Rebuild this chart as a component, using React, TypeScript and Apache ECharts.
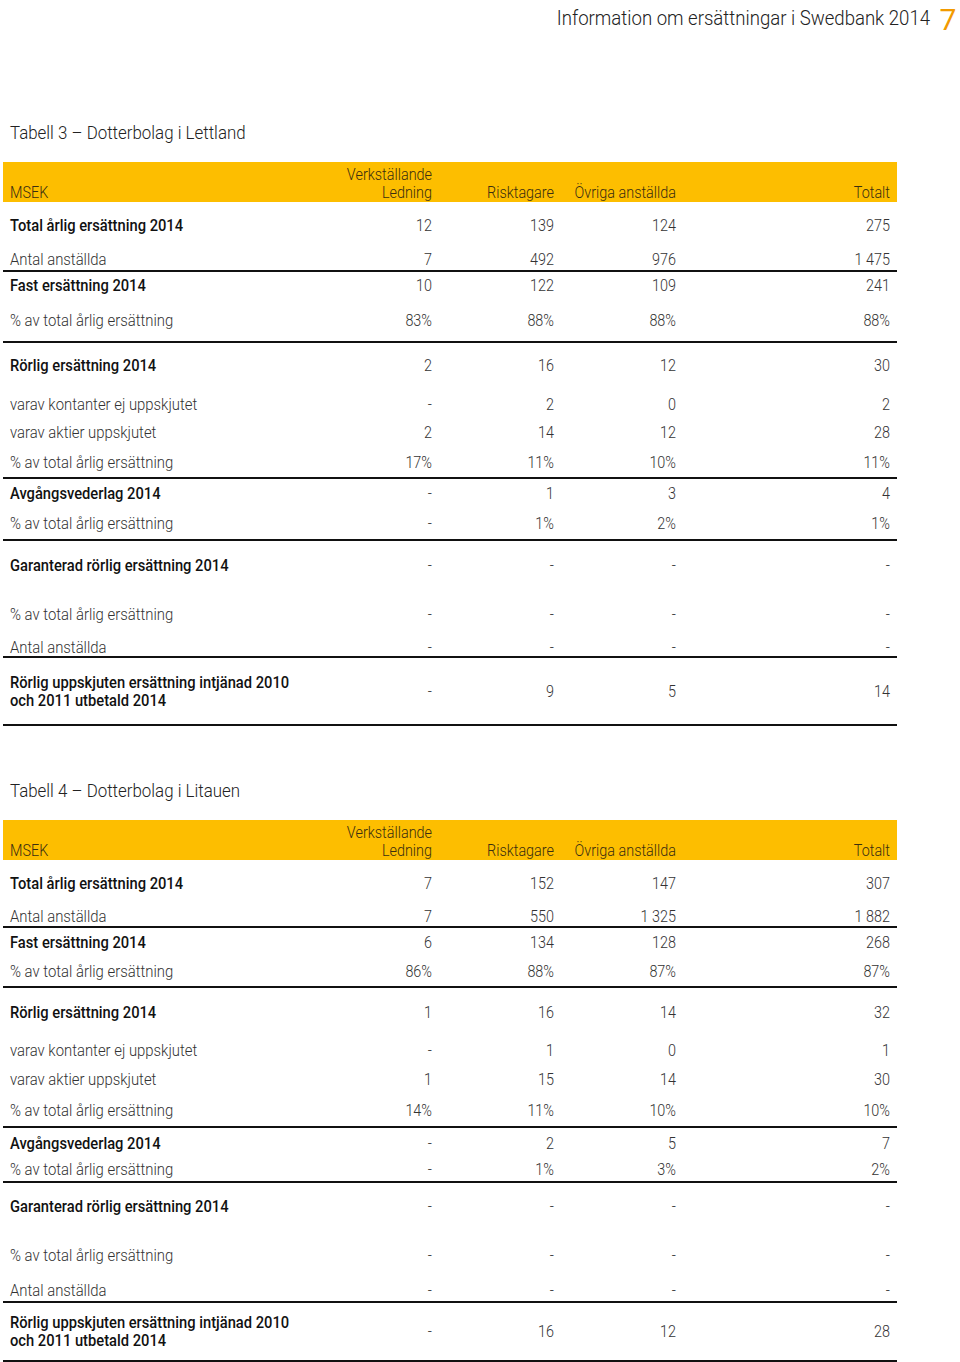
import React, { useEffect, useRef } from "react";
import * as echarts from "echarts";

const pageTitle = "Information om ersättningar i Swedbank 2014";
const pageNumber = "7";
const table3Title = "Tabell 3 – Dotterbolag i Lettland";
const table4Title = "Tabell 4 – Dotterbolag i Litauen";
const headerLabels = ["MSEK", "Verkställande\nLedning", "Risktagare", "Övriga anställda", "Totalt"];

const rowLabels = [
  "Total årlig ersättning 2014",
  "Antal anställda",
  "Fast ersättning 2014",
  "% av total årlig ersättning",
  "Rörlig ersättning 2014",
  "varav kontanter ej uppskjutet",
  "varav aktier uppskjutet",
  "% av total årlig ersättning",
  "Avgångsvederlag 2014",
  "% av total årlig ersättning",
  "Garanterad rörlig ersättning 2014",
  "% av total årlig ersättning",
  "Antal anställda",
  "Rörlig uppskjuten ersättning intjänad 2010\noch 2011 utbetald 2014",
];
const boldRows = [true, false, true, false, true, false, false, false, true, false, true, false, false, true];

// Tabell 3 – Lettland
const t3Ledning = ["12", "7", "10", "83%", "2", "-", "2", "17%", "-", "-", "-", "-", "-", "-"];
const t3Risk = ["139", "492", "122", "88%", "16", "2", "14", "11%", "1", "1%", "-", "-", "-", "9"];
const t3Ovriga = ["124", "976", "109", "88%", "12", "0", "12", "10%", "3", "2%", "-", "-", "-", "5"];
const t3Totalt = ["275", "1 475", "241", "88%", "30", "2", "28", "11%", "4", "1%", "-", "-", "-", "14"];

// Tabell 4 – Litauen
const t4Ledning = ["7", "7", "6", "86%", "1", "-", "1", "14%", "-", "-", "-", "-", "-", "-"];
const t4Risk = ["152", "550", "134", "88%", "16", "1", "15", "11%", "2", "1%", "-", "-", "-", "16"];
const t4Ovriga = ["147", "1 325", "128", "87%", "14", "0", "14", "10%", "5", "3%", "-", "-", "-", "12"];
const t4Totalt = ["307", "1 882", "268", "87%", "32", "1", "30", "10%", "7", "2%", "-", "-", "-", "28"];

// layout (relative to header top)
const t3RowY = [64, 98, 124, 159, 204, 243, 271, 301, 332, 362, 404, 453, 486, 530];
const t3LineY = [109, 180, 316, 378, 495, 563];
const t4RowY = [64, 97, 123, 152, 193, 231, 260, 291, 324, 350, 387, 436, 471, 512];
const t4LineY = [107, 167, 307, 362, 482, 541];

const FONT = "Roboto, 'Noto Sans', sans-serif";
const SX = 0.9;
const colRight = [432, 554, 676, 890];
const YELLOW = "#FDBE00";
const HEAD_FILL = "#3a2e10";

function txt(x: number, y: number, text: string, opts: any = {}) {
  return {
    type: "text",
    x,
    y,
    scaleX: opts.scaleX ?? SX,
    style: {
      text,
      fontFamily: FONT,
      fontSize: opts.size ?? 16,
      fontWeight: opts.weight ?? 400,
      fill: opts.fill ?? "#444",
      textAlign: opts.align ?? "left",
      textVerticalAlign: "middle",
      lineHeight: opts.lineHeight ?? 18,
    },
  };
}

function buildTable(top: number, title: string, cols: string[][], rowY: number[], lineY: number[]) {
  const els: any[] = [];
  els.push(txt(10, top - 30, title, { size: 19, fill: "#222", weight: 300, scaleX: 0.89 }));
  els.push({ type: "rect", shape: { x: 3, y: top, width: 894, height: 40 }, style: { fill: YELLOW } });
  els.push(txt(10, top + 31, headerLabels[0], { fill: HEAD_FILL, weight: 300 }));
  els.push(txt(colRight[0], top + 13, "Verkställande", { fill: HEAD_FILL, align: "right", weight: 300 }));
  els.push(txt(colRight[0], top + 31, "Ledning", { fill: HEAD_FILL, align: "right", weight: 300 }));
  for (let c = 2; c < headerLabels.length; c++) {
    els.push(txt(colRight[c - 1], top + 31, headerLabels[c], { fill: HEAD_FILL, align: "right", weight: 300 }));
  }
  rowLabels.forEach((lab, i) => {
    const y = top + rowY[i];
    els.push(
      txt(10, y, lab, {
        weight: boldRows[i] ? 500 : 300,
        fill: boldRows[i] ? "#111" : "#333",
        scaleX: boldRows[i] ? 0.92 : 0.93,
      })
    );
    cols.forEach((col, c) => {
      els.push(txt(colRight[c], y, col[i], { align: "right", weight: 300, fill: "#333" }));
    });
  });
  lineY.forEach((ly) => {
    els.push({
      type: "line",
      shape: { x1: 3, y1: top + ly, x2: 897, y2: top + ly },
      style: { stroke: "#111", lineWidth: 2 },
    });
  });
  return els;
}

export default function App() {
  const ref = useRef<HTMLDivElement>(null);
  useEffect(() => {
    if (!ref.current) return;
    const chart = echarts.init(ref.current, undefined, { renderer: "svg" });
    const elements: any[] = [
      txt(930, 18, pageTitle, { size: 20, fill: "#222", align: "right", weight: 300, scaleX: 0.93 }),
      txt(948, 19, pageNumber, { size: 30, fill: "#F29A00", align: "center", weight: 400, scaleX: 1 }),
      ...buildTable(162, table3Title, [t3Ledning, t3Risk, t3Ovriga, t3Totalt], t3RowY, t3LineY),
      ...buildTable(820, table4Title, [t4Ledning, t4Risk, t4Ovriga, t4Totalt], t4RowY, t4LineY),
    ];
    chart.setOption({
      animation: false,
      backgroundColor: "#fff",
      graphic: { elements },
    });
    return () => chart.dispose();
  }, []);
  return <div ref={ref} style={{ position: "absolute", left: 0, top: 0, width: 960, height: 1362 }} />;
}
